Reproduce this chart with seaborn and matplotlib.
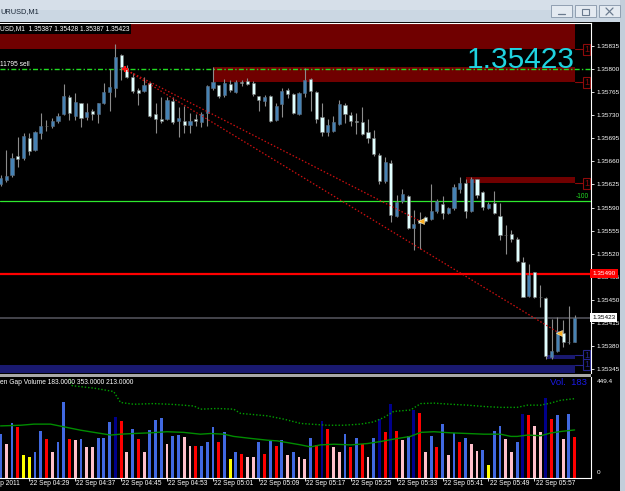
#!/usr/bin/env python
# coding: utf-8
import numpy as np
import pandas as pd
import matplotlib
matplotlib.use("Agg")
import matplotlib.pyplot as plt
import seaborn as sns
from matplotlib.patches import Rectangle
from matplotlib.lines import Line2D

sns.set_theme(style="dark", rc={"axes.facecolor": "black", "figure.facecolor": "black",
                                "axes.grid": False})
plt.rcParams["font.family"] = ["Liberation Sans", "DejaVu Sans"]

# %% values: EURUSD M1, 22 Sep 2011, one bar per minute 04:24 -> 06:04
opens = [1.35626, 1.35632, 1.35639, 1.35668, 1.35665, 1.35696, 1.35677, 1.35703, 1.35714, 1.35714,
         1.35721, 1.35732, 1.35758, 1.35729, 1.35748, 1.35727, 1.35736, 1.35732, 1.35748, 1.35765,
         1.35771, 1.35821, 1.35802, 1.35788, 1.35768, 1.35767, 1.35779, 1.35732, 1.35724, 1.35724,
         1.35752, 1.35721, 1.35721, 1.35715, 1.35724, 1.35720, 1.35733, 1.35771, 1.35776, 1.35761,
         1.35777, 1.35765, 1.35780, 1.35782, 1.35779, 1.35759, 1.35752, 1.35759, 1.35723, 1.35747,
         1.35768, 1.35762, 1.35732, 1.35764, 1.35785, 1.35765, 1.35727, 1.35705, 1.35706, 1.35717,
         1.35745, 1.35730, 1.35721, 1.35720, 1.35705, 1.35696, 1.35670, 1.35630, 1.35658, 1.35577,
         1.35600, 1.35608, 1.35559, 1.35571, 1.35576, 1.35573, 1.35585, 1.35595, 1.35582, 1.35589,
         1.35618, 1.35627, 1.35585, 1.35633, 1.35614, 1.35589, 1.35597, 1.35577, 1.35549, 1.35550,
         1.35542, 1.35508, 1.35456, 1.35492, 1.35455, 1.35453, 1.35364, 1.35373, 1.35400, 1.35386,
         1.35387]
highs = [1.35639, 1.35677, 1.35672, 1.35697, 1.35703, 1.35703, 1.35706, 1.35733, 1.35723, 1.35726,
         1.35733, 1.35777, 1.35761, 1.35764, 1.35749, 1.35748, 1.35739, 1.35749, 1.35779, 1.35800,
         1.35838, 1.35822, 1.35806, 1.35794, 1.35771, 1.35788, 1.35780, 1.35748, 1.35758, 1.35758,
         1.35758, 1.35742, 1.35744, 1.35733, 1.35732, 1.35735, 1.35776, 1.35803, 1.35776, 1.35785,
         1.35783, 1.35783, 1.35783, 1.35786, 1.35782, 1.35759, 1.35761, 1.35761, 1.35748, 1.35771,
         1.35771, 1.35764, 1.35765, 1.35802, 1.35786, 1.35767, 1.35748, 1.35724, 1.35729, 1.35753,
         1.35748, 1.35735, 1.35733, 1.35742, 1.35724, 1.35708, 1.35673, 1.35667, 1.35662, 1.35609,
         1.35618, 1.35609, 1.35586, 1.35583, 1.35577, 1.35626, 1.35603, 1.35608, 1.35591, 1.35626,
         1.35636, 1.35633, 1.35636, 1.35634, 1.35615, 1.35598, 1.35615, 1.35597, 1.35564, 1.35556,
         1.35545, 1.35515, 1.35505, 1.35493, 1.35473, 1.35454, 1.35421, 1.35424, 1.35420, 1.35441,
         1.35428]
lows = [1.35623, 1.35629, 1.35636, 1.35652, 1.35662, 1.35670, 1.35676, 1.35694, 1.35706, 1.35711,
        1.35718, 1.35731, 1.35723, 1.35723, 1.35712, 1.35723, 1.35723, 1.35718, 1.35747, 1.35736,
        1.35758, 1.35783, 1.35786, 1.35764, 1.35745, 1.35765, 1.35727, 1.35703, 1.35718, 1.35723,
        1.35717, 1.35697, 1.35703, 1.35703, 1.35714, 1.35712, 1.35714, 1.35768, 1.35756, 1.35758,
        1.35765, 1.35764, 1.35774, 1.35776, 1.35759, 1.35736, 1.35744, 1.35720, 1.35721, 1.35727,
        1.35756, 1.35732, 1.35731, 1.35758, 1.35736, 1.35718, 1.35698, 1.35698, 1.35705, 1.35715,
        1.35718, 1.35714, 1.35702, 1.35700, 1.35688, 1.35668, 1.35626, 1.35627, 1.35568, 1.35576,
        1.35597, 1.35558, 1.35526, 1.35527, 1.35568, 1.35571, 1.35582, 1.35573, 1.35580, 1.35586,
        1.35612, 1.35574, 1.35583, 1.35605, 1.35586, 1.35588, 1.35580, 1.35541, 1.35520, 1.35538,
        1.35508, 1.35454, 1.35454, 1.35453, 1.35439, 1.35361, 1.35361, 1.35371, 1.35379, 1.35383,
        1.35387]
closes = [1.35635, 1.35638, 1.35665, 1.35664, 1.35699, 1.35676, 1.35705, 1.35714, 1.35713, 1.35721,
          1.35729, 1.35759, 1.35733, 1.35750, 1.35726, 1.35735, 1.35732, 1.35748, 1.35765, 1.35773,
          1.35818, 1.35803, 1.35788, 1.35767, 1.35764, 1.35776, 1.35729, 1.35724, 1.35721, 1.35753,
          1.35720, 1.35726, 1.35715, 1.35721, 1.35721, 1.35732, 1.35774, 1.35780, 1.35759, 1.35779,
          1.35768, 1.35780, 1.35779, 1.35777, 1.35762, 1.35753, 1.35758, 1.35721, 1.35744, 1.35767,
          1.35762, 1.35733, 1.35764, 1.35783, 1.35767, 1.35724, 1.35705, 1.35715, 1.35720, 1.35747,
          1.35732, 1.35721, 1.35720, 1.35702, 1.35696, 1.35671, 1.35630, 1.35659, 1.35579, 1.35598,
          1.35611, 1.35559, 1.35565, 1.35567, 1.35570, 1.35585, 1.35600, 1.35582, 1.35589, 1.35621,
          1.35627, 1.35585, 1.35633, 1.35609, 1.35591, 1.35595, 1.35582, 1.35549, 1.35548, 1.35542,
          1.35509, 1.35455, 1.35488, 1.35455, 1.35454, 1.35365, 1.35373, 1.35403, 1.35386, 1.35387,
          1.35423]

# tick volume per bar and the colour class the indicator gave it
volumes = [197, 149, 243, 228, 100, 93, 116, 206, 172, 112,
           157, 336, 173, 167, 172, 137, 137, 175, 179, 249,
           272, 254, 115, 219, 172, 115, 213, 258, 267, 152,
           184, 191, 182, 139, 139, 142, 157, 227, 161, 202,
           82, 116, 106, 93, 90, 160, 106, 167, 139, 169,
           99, 115, 93, 85, 178, 146, 255, 215, 137, 112,
           196, 137, 178, 151, 93, 178, 261, 205, 327, 208,
           169, 187, 303, 287, 112, 187, 137, 239, 100, 199,
           161, 178, 149, 119, 125, 55, 208, 230, 172, 116,
           161, 284, 278, 231, 202, 358, 260, 282, 172, 285, 183]
vol_kind = list("BPBRYYBBRP" "BBRPBPPBBB" "NRPBRPBBBP" "BBPPRBBBRB" "YBRPPBRBRB"
                "PBPPBRNRPP" "BRBRPBNRNR" "PBNRPBRBPB" "RBPPBYBBPP" "BNRPPNRBPBR")

# the two green lines of the volume window, sampled along the picture
ma_bar = [0, 3.5, 5.8, 8.7, 11.6, 13.9, 16.3, 19.2, 20.9, 23.2, 26.1, 29.0, 31.9, 34.8, 36.6,
          38.9, 40.6, 43.6, 46.5, 48.2, 50.5, 52.3, 54.0, 55.7, 58.1, 61.0, 63.9, 66.2, 68.5,
          71.4, 73.2, 75.5, 78.4, 81.3, 84.2, 87.1, 88.9, 90.0, 91.8, 94.1, 95.8, 97.6, 100]
ma_val = [231, 234, 239, 239, 224, 212, 202, 190, 194, 197, 200, 205, 202, 194, 197,
          194, 184, 175, 167, 164, 154, 146, 137, 146, 149, 146, 152, 161, 172,
          184, 202, 205, 200, 197, 194, 194, 184, 184, 190, 187, 199, 206, 213]
band_bar = [11.6, 12.5, 16.3, 19.7, 20.9, 23.2, 26.7, 30.2, 33.7, 34.8, 37.7, 40.6, 41.8,
            46.5, 49.4, 52.3, 56.9, 59.8, 62.7, 65.0, 66.8, 68.5, 71.4, 73.2, 75.5, 78.4,
            81.3, 84.2, 87.1, 90.0, 91.8, 94.1, 95.8, 97.6, 100]
band_val = [470, 411, 400, 385, 336, 328, 331, 327, 320, 306, 309, 306, 287,
            276, 261, 242, 234, 234, 239, 249, 269, 296, 302, 331, 333, 328,
            324, 318, 314, 314, 324, 324, 333, 346, 353]

time_ticks = [-3.3, 5, 13, 21, 29, 37, 45, 53, 61, 69, 77, 85, 93]
time_labels = ["22 Sep 2011", "22 Sep 04:29", "22 Sep 04:37", "22 Sep 04:45", "22 Sep 04:53",
               "22 Sep 05:01", "22 Sep 05:09", "22 Sep 05:17", "22 Sep 05:25", "22 Sep 05:33",
               "22 Sep 05:41", "22 Sep 05:49", "22 Sep 05:57"]
price_ticks = [1.35835, 1.35800, 1.35765, 1.35730, 1.35695, 1.35660, 1.35625, 1.35590,
               1.35555, 1.35520, 1.35485, 1.35450, 1.35415, 1.35380, 1.35345]

# rectangle objects on the chart (bar from, bar to, price low, price high)
zone_start = [-5, 37, 81, 95, -5]
zone_end = [100, 100, 100, 100, 100]
zone_lo = [1.35830, 1.35780, 1.35627, 1.35360, 1.35340]
zone_hi = [1.35900, 1.35803, 1.35636, 1.35366, 1.35352]
zone_tag = [1.35830, 1.35780, 1.35627, 1.35366, 1.35352]
zone_kind = ["supply", "supply", "supply", "demand", "demand"]

order_bar, order_price = 21.6, 1.35800
close_bars = [73.2, 97.3]
close_prices = [1.35569, 1.35400]
tp_level = 1.35600
alert_level = 1.35490

# %% figure in pixel units
W, H = 625, 491
XLIM = (-0.1, 102.86)


def fx(px):
    return px / W


def fy(py):
    return 1 - py / H


fig = plt.figure(figsize=(W / 100, H / 100), dpi=100, facecolor="black")
ax = fig.add_axes([0, fy(373), fx(591), (373 - 22.5) / H])
axv = fig.add_axes([0, fy(477.5), fx(591), (477.5 - 377) / H])
for a in (ax, axv):
    a.set_facecolor("black")
    a.grid(False)

SMALL = 4.75
UP, DOWN, WICK = "#4682B4", "#E0FFFF", "#8C8C8C"
zone_fill = {"supply": "#700000", "demand": "#191970"}
zone_edge = {"supply": "#8E0A0A", "demand": "#25258E"}

# zones behind everything
for s, e, lo, hi, k, tag in zip(zone_start, zone_end, zone_lo, zone_hi, zone_kind, zone_tag):
    ax.add_patch(Rectangle((s, lo), e - s, hi - lo, color=zone_fill[k], lw=0, zorder=1))
    ax.plot([e, 101.4], [tag, tag], color=zone_edge[k], lw=0.8, zorder=1, clip_on=False)
    ax.text(102.1, tag, "1", color=zone_edge[k], fontsize=6.5, ha="center", va="center",
            zorder=2, bbox=dict(boxstyle="square,pad=0.12", fc="black", ec=zone_edge[k], lw=0.8))

# horizontal levels
ax.axhline(order_price, color="#22DD22", lw=1.0, ls=(0, (3.6, 1.6, 1.0, 1.6)), zorder=2)
ax.axhline(tp_level, color="#2EE82E", lw=0.9, zorder=2)
ax.axhline(alert_level, color="#FF0000", lw=1.6, zorder=2)
ax.axhline(closes[-1], color="#505058", lw=1.2, zorder=2)

# candles
x = np.arange(len(opens))
o, h, l, c = map(np.array, (opens, highs, lows, closes))
up = c > o
ax.vlines(x, l, h, color=WICK, lw=0.8, zorder=3)
body_lo = np.minimum(o, c)
body_h = np.maximum(np.abs(c - o), 0.000008)
ax.bar(x[up], body_h[up], bottom=body_lo[up], width=0.55, color=UP,
       edgecolor="#5C6E80", lw=0.4, zorder=4)
ax.bar(x[~up], body_h[~up], bottom=body_lo[~up], width=0.55, color=DOWN,
       edgecolor="#6E6E6E", lw=0.4, zorder=4)

# trade history lines
for cb, cp in zip(close_bars, close_prices):
    ax.plot([order_bar, cb], [order_price, cp], color="#D01010", lw=0.9,
            ls=(0, (1.2, 1.6)), zorder=5)
ax.plot(order_bar, order_price, marker="+", ms=5, mew=1.6, color="#FF1010", zorder=6)
ax.plot(close_bars, close_prices, ls="none", marker="<", ms=4.5, color="#FFB020",
        mec="#FFF0C0", mew=0.4, zorder=6)

ax.set_xticks([])
ax.set_yticks(price_ticks)
ax.set_yticklabels([f"{p:.5f}" for p in price_ticks])
ax.set_xlim(*XLIM)
ax.set_ylim(1.353394, 1.358704)
ax.tick_params(axis="y", left=False, right=True, labelleft=False, labelright=True,
               colors="white", labelsize=4.6, length=2.5, width=0.6, pad=1.3)
for side, sp in ax.spines.items():
    sp.set_visible(side in ("top", "right"))
    sp.set_color("white")
    sp.set_linewidth(0.8)

ax.annotate(f"{alert_level:.5f}", xy=(1, alert_level), xycoords=("axes fraction", "data"),
            xytext=(1.0, 0), textcoords="offset points", ha="left", va="center",
            fontsize=4.6, color="white", annotation_clip=False, zorder=20,
            bbox=dict(boxstyle="square,pad=0.3", fc="#FF0000", ec="none"))
ax.annotate(f"{closes[-1]:.5f}", xy=(1, closes[-1]), xycoords=("axes fraction", "data"),
            xytext=(1.0, 0), textcoords="offset points", ha="left", va="center",
            fontsize=4.6, color="black", annotation_clip=False, zorder=20,
            bbox=dict(boxstyle="square,pad=0.3", fc="white", ec="none"))

# %% volume window
vol_df = pd.DataFrame({"bar": x, "volume": volumes, "kind": vol_kind})
vol_palette = {"B": "#4169E1", "R": "#FF0000", "P": "#FFC0CB", "Y": "#FFFF00", "N": "#00008B"}
sns.barplot(data=vol_df, x="bar", y="volume", hue="kind", hue_order=list(vol_palette),
            palette=vol_palette, native_scale=True, dodge=False, width=0.5, orient="x",
            errorbar=None, saturation=1, legend=False, linewidth=0, ax=axv)
sns.lineplot(x=ma_bar, y=ma_val, color="#008C00", lw=1.0, ax=axv)
sns.lineplot(x=band_bar, y=band_val, color="#00A000", lw=1.0, ls=(0, (1.0, 1.4)), ax=axv)
axv.set_xlabel("")
axv.set_ylabel("")
axv.set_yticks([])
axv.set_xticks(time_ticks)
axv.set_xticklabels([])
# ticks outside the view would widen it, so the limits come last
axv.set_xlim(*XLIM)
axv.set_ylim(0, 450)
axv.tick_params(axis="x", bottom=True, direction="out", length=2.2, width=0.6,
                colors="white", labelbottom=False)
for side, sp in axv.spines.items():
    sp.set_visible(side in ("bottom", "right"))
    sp.set_color("white")
    sp.set_linewidth(0.8)
for tb, tl in zip(time_ticks, time_labels):
    axv.annotate(tl, xy=(tb, 0), xycoords=("data", "axes fraction"), xytext=(0.8, -4.6),
                 textcoords="offset points", ha="left", va="center", color="white",
                 fontsize=SMALL, annotation_clip=False)

# %% texts
fig.text(fx(575), fy(68.3), f"{closes[-1]:.5f}", ha="right", va="baseline",
         color="#1FD3E0", fontsize=21.5, zorder=10)
fig.text(fx(0), fy(28.7), f"USD,M1  {opens[-1]:.5f} {highs[-1]:.5f} {lows[-1]:.5f} {closes[-1]:.5f}",
         ha="left", va="center", color="white", fontsize=SMALL,
         bbox=dict(boxstyle="square,pad=0.25", fc="black", ec="none"))
fig.text(fx(0.5), fy(64), "11795 sell", ha="left", va="center", color="white", fontsize=SMALL)
fig.text(fx(589), fy(196), "-100", ha="right", va="center", color="#22DD22", fontsize=SMALL)
fig.text(fx(0), fy(383), "en Gap Volume %.4f %.4f %.4f" % (volumes[-1], band_val[-1], ma_val[-1]),
         ha="left", va="center", color="white", fontsize=SMALL)
fig.text(fx(587), fy(382.5), f"Vol.  {volumes[-1]}", ha="right", va="center",
         color="#1A1AE6", fontsize=6.8)
fig.text(fx(597), fy(381.5), "449.4", ha="left", va="center", color="white", fontsize=4.6)
fig.text(fx(597), fy(472), "0", ha="left", va="center", color="white", fontsize=4.6)

# %% window chrome
fig.patches.append(Rectangle((0, fy(21.5)), 1, 21.5 / H, transform=fig.transFigure,
                             fc="#CBD7E3", ec="none", zorder=1))
fig.patches.append(Rectangle((0, fy(10)), 1, 10 / H, transform=fig.transFigure,
                             fc="#D6DFE9", ec="none", zorder=1))
fig.patches.append(Rectangle((fx(620), 0), fx(5), 1, transform=fig.transFigure,
                             fc="#C3CEDA", ec="none", zorder=1))
fig.patches.append(Rectangle((0, fy(376.5)), fx(591), 3 / H, transform=fig.transFigure,
                             fc="#A8A8A8", ec="none", zorder=1))
for bx in (551, 575, 599):
    fig.patches.append(Rectangle((fx(bx), fy(17)), fx(21), 12 / H, transform=fig.transFigure,
                                 fc="#E4EAF1", ec="#8595A8", lw=0.6, zorder=2))
icon = dict(transform=fig.transFigure, color="#6A7A8E", lw=0.9, zorder=3)
fig.lines.append(Line2D([fx(558), fx(565)], [fy(14), fy(14)], **icon))
fig.patches.append(Rectangle((fx(582), fy(14.5)), fx(7), 6 / H, transform=fig.transFigure,
                             fc="none", ec="#6A7A8E", lw=0.8, zorder=3))
fig.lines.append(Line2D([fx(606), fx(613)], [fy(8), fy(15)], **icon))
fig.lines.append(Line2D([fx(606), fx(613)], [fy(15), fy(8)], **icon))
fig.text(fx(0), fy(11.5), "URUSD,M1", ha="left", va="center", color="#1B2838", fontsize=5.3)

fig.savefig("out.png", dpi=100, facecolor="black")
